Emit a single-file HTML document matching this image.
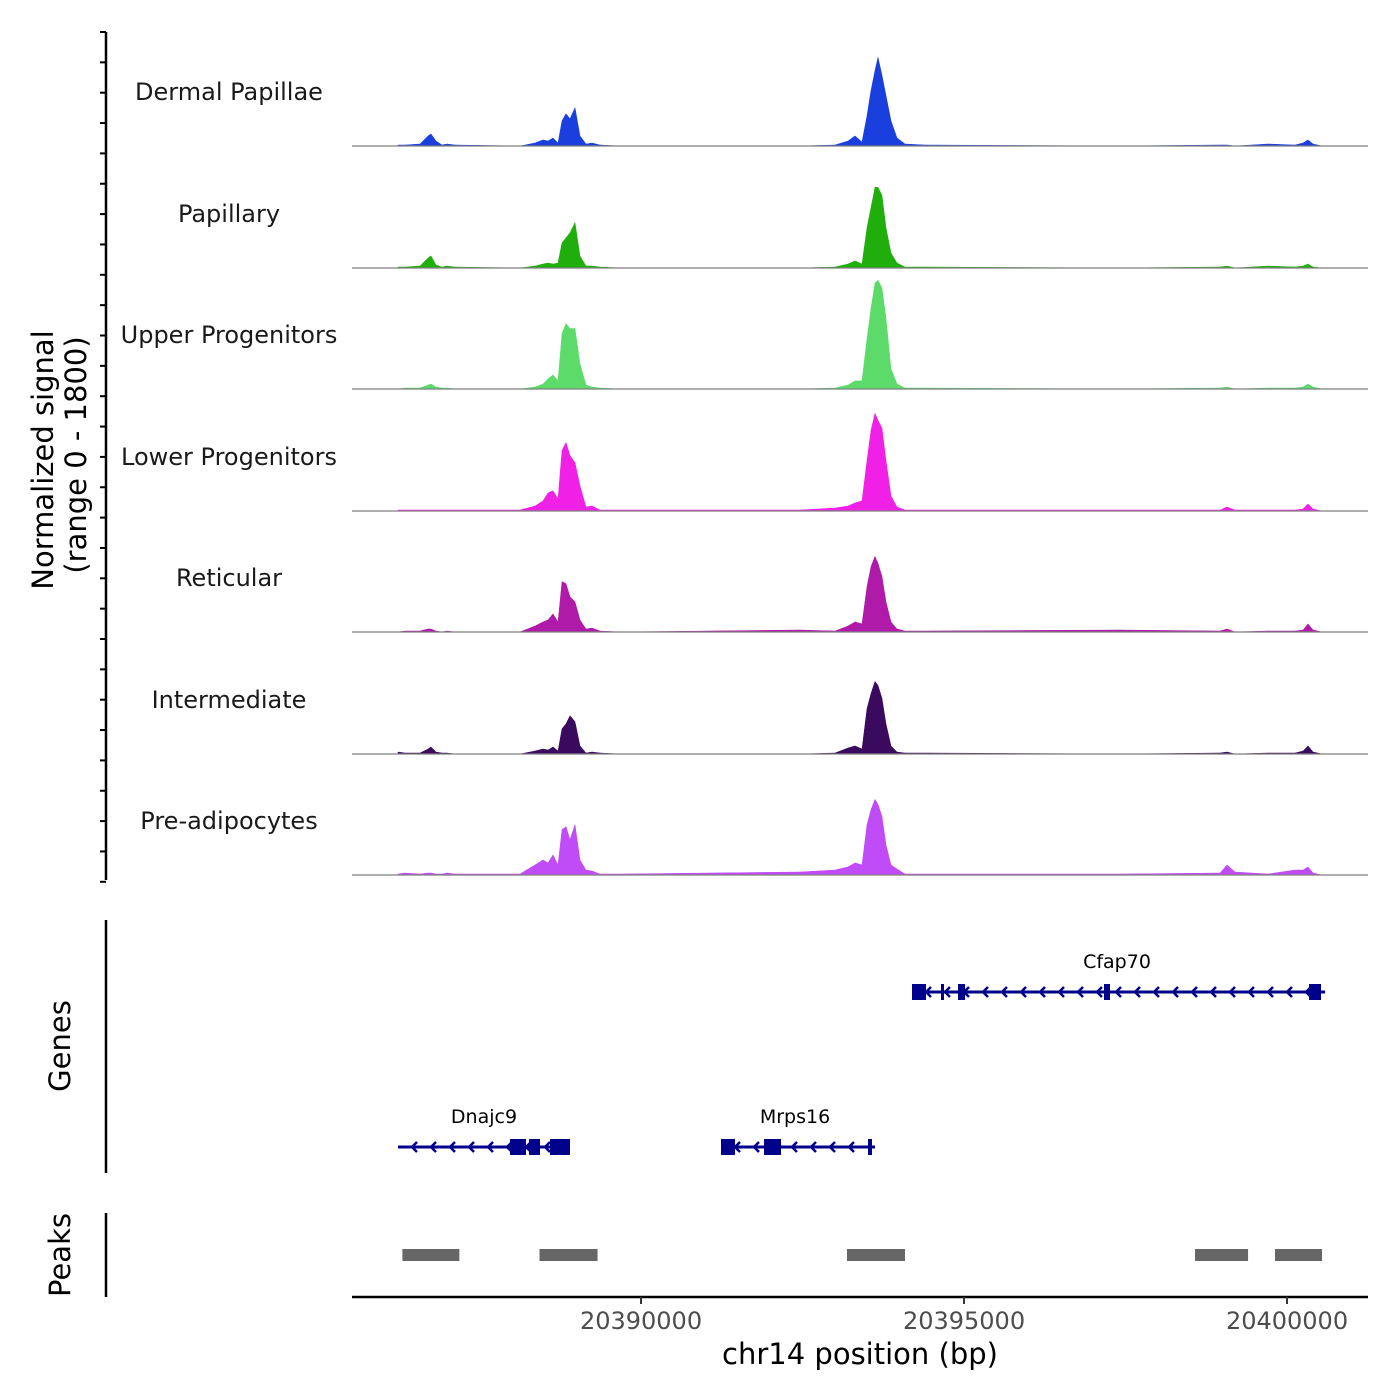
<!DOCTYPE html>
<html><head><meta charset="utf-8"><style>
html,body{margin:0;padding:0;background:#fff}
svg{display:block;font-family:"DejaVu Sans","Liberation Sans",sans-serif}
</style></head><body>
<svg id="chart" width="1400" height="1400" viewBox="0 0 1400 1400" xmlns="http://www.w3.org/2000/svg"></svg>
<script>
const trackNames = ["Dermal Papillae","Papillary","Upper Progenitors","Lower Progenitors","Reticular","Intermediate","Pre-adipocytes"];
const trackColors = ["#1a3fdf","#1fae0b","#5cdb6a","#f020e6","#b01aa8","#3a0a5e","#c04cf8"];
const positions = [20386238,20386346,20386579,20386702,20386749,20386826,20386919,20386997,20387120,20388127,20388359,20388483,20388560,20388637,20388715,20388777,20388839,20388901,20388978,20389055,20389148,20389241,20389365,20389675,20392461,20393003,20393204,20393312,20393421,20393498,20393560,20393622,20393668,20393730,20393792,20393870,20393963,20394086,20394396,20397415,20398963,20399071,20399195,20399706,20400124,20400248,20400325,20400403,20400542];
const sigDermal = [15,15,30,150,180,75,15,30,15,0,45,90,75,120,45,375,480,405,570,150,30,45,15,0,0,15,75,150,60,450,825,1125,1320,1050,750,375,120,30,15,0,15,15,0,30,15,45,90,30,0];
const sigPapillary = [15,15,30,150,180,45,15,30,15,0,30,60,75,60,75,375,450,525,675,180,30,30,15,0,0,15,60,105,60,600,900,1200,1200,1080,600,225,75,15,15,0,15,30,0,30,15,30,60,15,0];
const sigUpper = [0,15,15,60,75,30,15,15,0,0,30,75,150,210,120,825,975,900,900,375,60,30,15,0,0,15,60,120,120,750,1200,1575,1620,1500,1050,300,75,15,15,0,15,30,0,15,15,30,75,30,0];
const sigLower = [15,15,15,15,15,15,15,15,15,15,75,150,270,300,180,900,1020,825,720,375,60,75,15,15,15,45,75,120,150,750,1200,1455,1350,1230,750,225,60,15,15,15,15,60,15,15,15,30,105,30,0];
const sigReticular = [0,15,15,45,45,15,0,15,0,0,90,150,180,270,150,750,720,525,450,180,45,60,15,0,30,15,90,150,120,675,975,1125,1020,825,450,150,45,15,15,30,15,45,0,15,15,30,120,30,0];
const sigIntermediate = [30,15,15,75,105,30,15,15,0,0,45,75,60,105,45,375,450,570,480,120,15,30,15,0,0,15,90,120,75,675,900,1080,1020,825,450,120,30,15,15,0,15,30,0,15,15,45,120,30,0];
const sigPreadipo = [15,30,15,30,30,15,15,30,15,15,150,225,180,300,150,675,720,525,750,225,75,60,15,15,45,75,120,180,150,750,975,1125,1050,870,450,150,90,15,15,15,30,150,45,15,75,75,120,30,0];
const trackSignals = [sigDermal,sigPapillary,sigUpper,sigLower,sigReticular,sigIntermediate,sigPreadipo];
const xTicks = [20390000,20395000,20400000];
const xTickLabels = ["20390000","20395000","20400000"];
const peakStarts = [20386306,20388429,20393188,20398576,20399814];
const peakEnds = [20387188,20389327,20394086,20399397,20400542];

const svg = document.getElementById('chart');
const NS = "http://www.w3.org/2000/svg";
function mk(tag, attrs, parent){const e=document.createElementNS(NS,tag);for(const k in attrs)e.setAttribute(k,attrs[k]);(parent||svg).appendChild(e);return e;}
const X0=352,X1=1368,BP0=20385526,PXPERBP=0.0646;
function xs(bp){return X0+(bp-BP0)*PXPERBP;}
const baselines=[146,268,389,511,632,754,875];
const trackPx=121, maxSig=1800;
function ys(v,i){return baselines[i]-v/maxSig*trackPx;}

let ax=mk('line',{x1:106,y1:32,x2:106,y2:880,stroke:'#000','stroke-width':2.5});

for(let y=32;y<=882;y+=30.35){const t=mk('line',{x1:100,y1:y,x2:106,y2:y,stroke:'#000','stroke-width':2});
}
let yt=mk('text',{transform:'translate(53,460) rotate(-90)','text-anchor':'middle','font-size':29,fill:'#000'});

yt.textContent='Normalized signal';
let yt2=mk('text',{transform:'translate(86,455) rotate(-90)','text-anchor':'middle','font-size':29,fill:'#000'});

yt2.textContent='(range 0 - 1800)';

trackNames.forEach((name,i)=>{
  const lab=mk('text',{x:229,y:baselines[i]-46,'text-anchor':'middle','font-size':24,fill:'#1a1a1a'});
  
  lab.textContent=name;
  let d='M'+xs(positions[0])+','+baselines[i];
  positions.forEach((p,j)=>{d+=' L'+xs(p).toFixed(1)+','+ys(trackSignals[i][j],i).toFixed(1);});
  d+=' L'+xs(positions[positions.length-1])+','+baselines[i]+' Z';
  const a=mk('path',{d:d,fill:trackColors[i],stroke:trackColors[i],'stroke-width':0.5});
  
  const b=mk('line',{x1:X0,y1:baselines[i],x2:X1,y2:baselines[i],stroke:'#7f7f7f','stroke-width':1.2});
  
});

let ga=mk('line',{x1:106,y1:920,x2:106,y2:1173,stroke:'#000','stroke-width':2.5});

let gl=mk('text',{transform:'translate(70,1046) rotate(-90)','text-anchor':'middle','font-size':29});
gl.textContent='Genes';
const NAVY='#00008b';
function gene(name,x1,x2,y,exons,lx){
  const g=mk('g',{});
  
  mk('line',{x1:x1,y1:y,x2:x2,y2:y,stroke:NAVY,'stroke-width':3},g);
  for(let x=x1+14;x<x2-8;x+=19){mk('path',{d:`M${x+5},${y-5} L${x},${y} L${x+5},${y+5}`,stroke:NAVY,'stroke-width':2.5,fill:'none'},g);}
  exons.forEach(e=>mk('rect',{x:e[0],y:y-8,width:e[1]-e[0],height:16,fill:NAVY},g));
  const t=mk('text',{x:lx,y:y-24,'text-anchor':'middle','font-size':19},g);t.textContent=name;
}
gene('Cfap70',912,1325,992,[[912,926],[941,944],[958,965],[1104,1110],[1309,1321]],1117);
gene('Dnajc9',398,570,1147,[[510,526],[529,540],[550,570]],484);
gene('Mrps16',721,875,1147,[[721,735],[764,781],[868,872]],795);

let pa=mk('line',{x1:106,y1:1213,x2:106,y2:1297,stroke:'#000','stroke-width':2.5});

let pl=mk('text',{transform:'translate(70,1255) rotate(-90)','text-anchor':'middle','font-size':29});
pl.textContent='Peaks';
peakStarts.forEach((s,i)=>{
  const r=mk('rect',{x:xs(s),y:1249,width:xs(peakEnds[i])-xs(s),height:12,fill:'#666666'});
  
});

let xa=mk('line',{x1:X0,y1:1297,x2:X1,y2:1297,stroke:'#000','stroke-width':2.5});

xTicks.forEach((t,i)=>{
  const tk=mk('line',{x1:xs(t),y1:1297,x2:xs(t),y2:1304,stroke:'#333','stroke-width':2});
  
  const tl=mk('text',{x:xs(t),y:1329,'text-anchor':'middle','font-size':24,fill:'#4d4d4d'});
  
  tl.textContent=xTickLabels[i];
});
let xt=mk('text',{x:860,y:1364,'text-anchor':'middle','font-size':29});

xt.textContent='chr14 position (bp)';
</script>
</body></html>
